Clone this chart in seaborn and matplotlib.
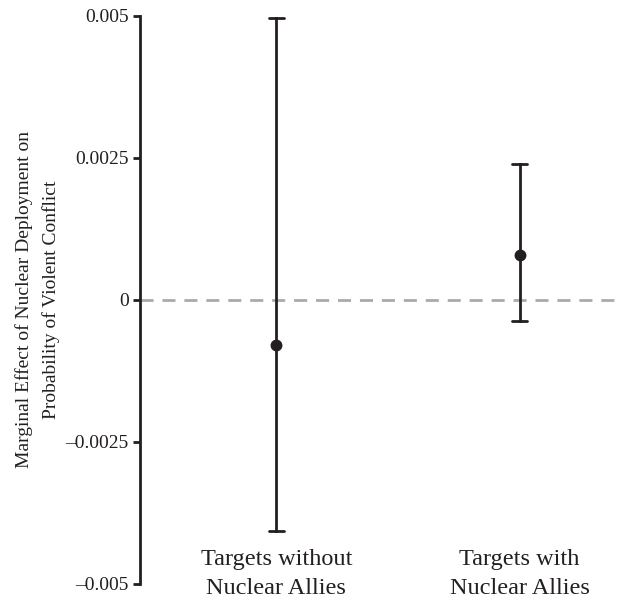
import numpy as np
import pandas as pd
import seaborn as sns
import matplotlib.pyplot as plt

# values
groups = ['Targets without\nNuclear Allies', 'Targets with\nNuclear Allies']
estimates = [-0.00080, 0.00079]
ci_lower = [-0.00407, -0.000375]
ci_upper = [0.00496, 0.00239]

ytick_vals = [0.005, 0.0025, 0, -0.0025, -0.005]
ytick_labels = ['0.005', '0.0025', '0', '\u20130.0025', '\u20130.005']

# long table: lower / estimate / upper per group, median = estimate, min/max = CI
rows = []
for g, lo, est, hi in zip(groups, ci_lower, estimates, ci_upper):
    for v in (lo, est, hi):
        rows.append({'group': g, 'effect': v})
df = pd.DataFrame(rows)

sns.set_style('white')
plt.rcParams['font.family'] = ['Liberation Serif', 'DejaVu Serif']

fig = plt.figure(figsize=(6.17, 6.12), dpi=100)
ax = fig.add_axes([140 / 617, 28 / 612, 477 / 617, 568 / 612])

ax.axhline(0, color='#aaaaaa', lw=2, dashes=(4.7, 3.2), zorder=0)

sns.pointplot(data=df, x='group', y='effect', order=groups,
              estimator='median', errorbar=lambda v: (v.min(), v.max()),
              color='#231f20', linestyle='none', markers='o', markersize=6.5,
              capsize=0.062, err_kws={'linewidth': 2}, ax=ax)

ax.set_ylim(-0.005, 0.005)
ax.set_xlim(-0.56, 1.40)
ax.set_yticks(ytick_vals)
ax.set_yticklabels(ytick_labels, fontsize=14, color='#231f20')
ax.set_xticks([0, 1])
ax.set_xticklabels(groups, fontsize=17.5, color='#231f20', linespacing=1.5)
ax.tick_params(axis='x', length=0, pad=-25.5)
ax.tick_params(axis='y', left=True, length=5, width=2, color='#231f20', pad=3)
ax.set_xlabel('')
ax.set_ylabel('Marginal Effect of Nuclear Deployment on\nProbability of Violent Conflict',
              fontsize=14, color='#231f20', linespacing=1.65, labelpad=4)

for s in ['top', 'right', 'bottom']:
    ax.spines[s].set_visible(False)
ax.spines['left'].set_linewidth(2)
ax.spines['left'].set_color('#231f20')

fig.savefig('out.png', dpi=100)
